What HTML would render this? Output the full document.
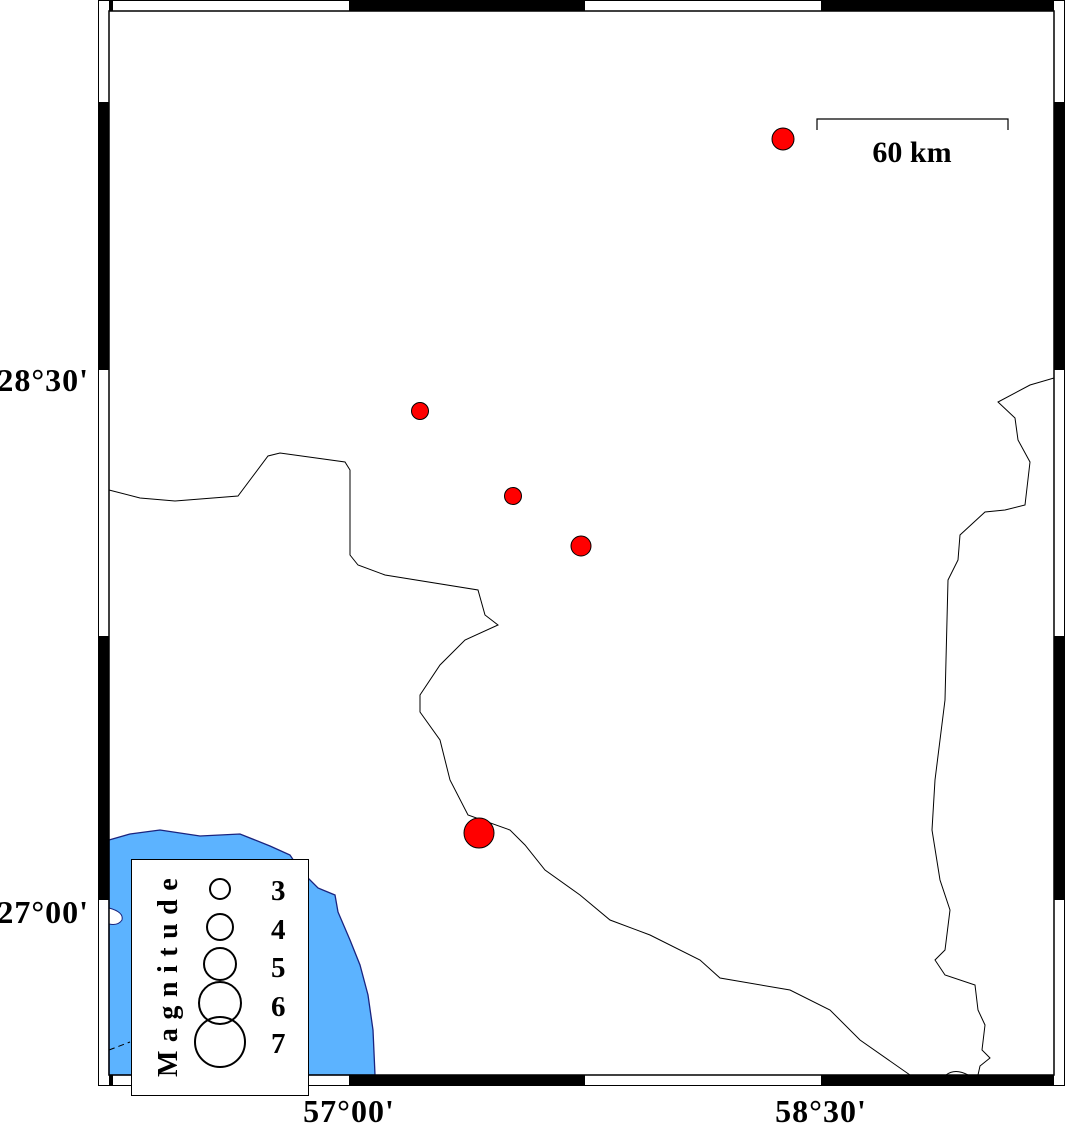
<!DOCTYPE html>
<html><head><meta charset="utf-8"><style>
html,body{margin:0;padding:0;background:#fff}
svg{display:block}
text{font-family:"Liberation Serif",serif;font-weight:bold;fill:#000}
</style></head><body>
<svg width="1066" height="1124" viewBox="0 0 1066 1124" xmlns="http://www.w3.org/2000/svg">
<path d="M109,840 L130,834 L160,830 L200,836 L240,834 L270,846 L290,855 L300,870 L318,888 L335,895 L338,912 L350,940 L360,965 L368,995 L373,1030 L375,1075 L109,1075 Z" fill="#5cb3ff" stroke="#1a237e" stroke-width="1.3"/>
<path d="M109,908 Q124,912 122,920 Q118,926 109,924 Z" fill="#fff" stroke="#1a237e" stroke-width="1"/>
<path d="M109,1050 L130,1042" stroke="#000" stroke-width="1" stroke-dasharray="6,4" fill="none"/>
<path d="M109,490 L140,498 L175,501 L238,496 L268,456 L280,453 L345,462 L350,470 L350,555 L358,565 L385,575 L478,590 L485,615 L498,625 L465,640 L440,665 L420,695 L420,712 L440,740 L450,780 L468,815 L510,830 L525,845 L545,870 L580,895 L610,920 L650,935 L700,960 L720,978 L790,990 L830,1010 L860,1040 L910,1075" fill="none" stroke="#000" stroke-width="1"/>
<path d="M1054,378 L1030,385 L998,402 L1015,418 L1018,440 L1030,462 L1025,505 L1005,510 L985,512 L960,535 L958,560 L948,580 L945,700 L935,780 L932,830 L940,880 L950,910 L945,950 L935,960 L945,975 L975,985 L978,1010 L985,1025 L982,1050 L990,1058 L980,1066 L978,1075" fill="none" stroke="#000" stroke-width="1"/>
<path d="M946,1075 Q955,1068 968,1075" fill="none" stroke="#000" stroke-width="1"/>
<rect x="98.5" y="0.5" width="966" height="1085" fill="none" stroke="#000" stroke-width="1"/>
<rect x="109" y="11" width="945" height="1064" fill="none" stroke="#000" stroke-width="1.5"/>
<rect x="349" y="1" width="236" height="10" fill="#000"/>
<rect x="821" y="1" width="233" height="10" fill="#000"/>
<rect x="349" y="1075" width="236" height="10" fill="#000"/>
<rect x="821" y="1075" width="233" height="10" fill="#000"/>
<rect x="99" y="102" width="10" height="268" fill="#000"/>
<rect x="99" y="636" width="10" height="264" fill="#000"/>
<rect x="1054" y="102" width="11" height="268" fill="#000"/>
<rect x="1054" y="636" width="11" height="264" fill="#000"/>
<rect x="109" y="1" width="4" height="10" fill="#000"/>
<rect x="109" y="1075" width="4" height="10" fill="#000"/>
<g fill="#ff0000" stroke="#000" stroke-width="1">
<circle cx="783" cy="139" r="11"/>
<circle cx="420" cy="411" r="8.5"/>
<circle cx="513" cy="496" r="8.5"/>
<circle cx="581" cy="546" r="10"/>
<circle cx="479" cy="833" r="15"/>
</g>
<path d="M817,130 L817,119 L1008,119 L1008,130" fill="none" stroke="#000" stroke-width="1.2"/>
<text x="912" y="162" font-size="30" text-anchor="middle">60 km</text>
<text x="89" y="391" font-size="32" text-anchor="end" letter-spacing="1">28°30'</text>
<text x="89" y="923" font-size="32" text-anchor="end" letter-spacing="1">27°00'</text>
<text x="349" y="1122" font-size="32" text-anchor="middle" letter-spacing="1">57°00'</text>
<text x="821" y="1122" font-size="32" text-anchor="middle" letter-spacing="1">58°30'</text>
<rect x="131.5" y="859.5" width="177" height="236" fill="#fff" stroke="#000" stroke-width="1"/>
<g fill="none" stroke="#000" stroke-width="2">
<circle cx="220" cy="889" r="10"/>
<circle cx="220" cy="927" r="13"/>
<circle cx="220" cy="964" r="16"/>
<circle cx="220" cy="1003" r="21"/>
<circle cx="220" cy="1042" r="25"/>
</g>
<g font-size="29">
<text x="271" y="900">3</text>
<text x="271" y="939">4</text>
<text x="271" y="977">5</text>
<text x="271" y="1016">6</text>
<text x="271" y="1053">7</text>
</g>
<text transform="translate(177,1077) rotate(-90)" font-size="28" letter-spacing="8.5">Magnitude</text>
</svg>
</body></html>
